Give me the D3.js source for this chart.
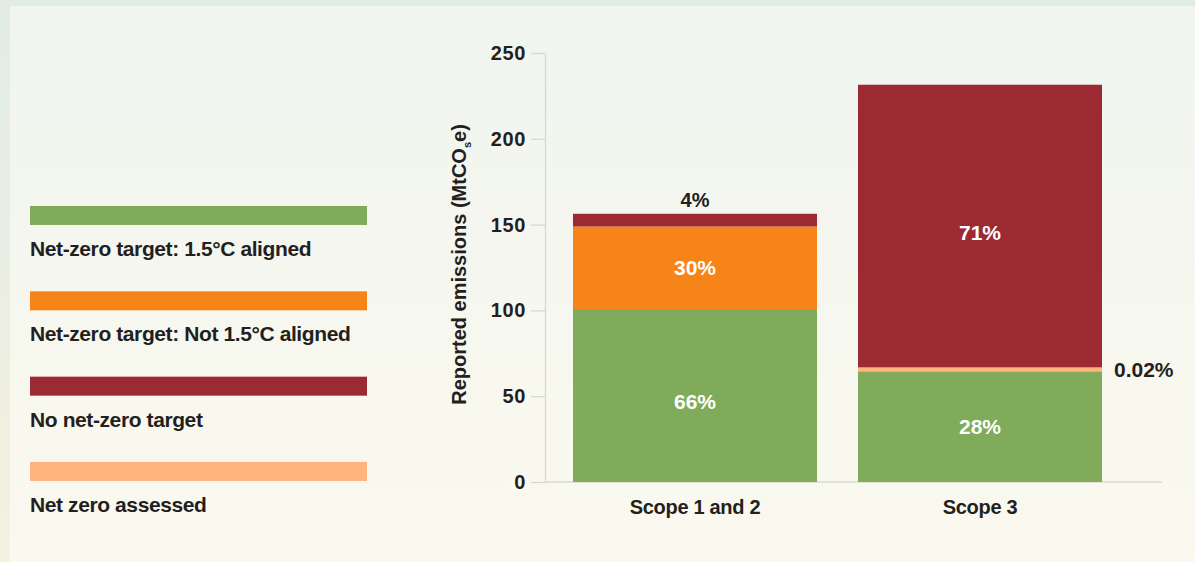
<!DOCTYPE html>
<html>
<head>
<meta charset="utf-8">
<script src="https://cdn.jsdelivr.net/npm/d3@7"></script>
<style>
  html, body { margin: 0; padding: 0; }
  body { width: 1195px; height: 562px; overflow: hidden; }
  svg { display: block; font-family: "Liberation Sans", Arial, sans-serif; }
</style>
</head>
<body>
<svg id="chart" width="1195" height="562"></svg>
<script>
// ---- data ----
const categories = ["Scope 1 and 2", "Scope 3"];
const seriesNames = ["Net-zero target: 1.5°C aligned", "Net-zero target: Not 1.5°C aligned", "No net-zero target", "Net zero assessed"];
const seriesColors = ["#80ab5b", "#f78419", "#9c2a33", "#ffb47c"];
// values per series, one per category (MtCO2e)
const aligned    = [100.8, 64.5];
const notAligned = [48.1, 0];
const noTarget   = [7.4, 164.7];
const assessed   = [0, 2.3];
const pctAligned    = ["66%", "28%"];
const pctNotAligned = ["30%", ""];
const pctNoTarget   = ["4%", "71%"];
const pctAssessed   = ["", "0.02%"];
const yTicks = [0, 50, 100, 150, 200, 250];

const svg = d3.select("#chart");
const W = 1195, H = 562;

// ---- background ----
const defs = svg.append("defs");
const g1 = defs.append("linearGradient").attr("id", "outerBg").attr("x1", 0).attr("y1", 0).attr("x2", 0).attr("y2", 1);
g1.append("stop").attr("offset", "0%").attr("stop-color", "#e1ece6");
g1.append("stop").attr("offset", "100%").attr("stop-color", "#f4f1df");
const g2 = defs.append("linearGradient").attr("id", "innerBg").attr("x1", 0).attr("y1", 0).attr("x2", 0).attr("y2", 1);
g2.append("stop").attr("offset", "0%").attr("stop-color", "#f0f5f0");
g2.append("stop").attr("offset", "100%").attr("stop-color", "#fbf9ee");
svg.append("rect").attr("width", W).attr("height", H).attr("fill", "url(#outerBg)");
svg.append("rect").attr("x", 10).attr("y", 6).attr("width", W - 10).attr("height", H - 6).attr("fill", "url(#innerBg)");

// ---- scales ----
const y = d3.scaleLinear().domain([0, 250]).range([482, 53]);
const x = d3.scaleBand().domain(categories).range([573, 1102]).paddingInner(0.1439).paddingOuter(0);

const textColor = "#231f20";

// ---- axis ----
const yAxis = d3.axisLeft(y).tickValues(yTicks).tickSize(14).tickPadding(5).tickSizeOuter(0);
const ga = svg.append("g").attr("transform", "translate(545,0)").call(yAxis);
ga.select(".domain").attr("stroke", "#d6d6d2").attr("stroke-width", 1.2);
ga.selectAll(".tick line").attr("stroke", "#d6d6d2").attr("stroke-width", 1.2);
ga.selectAll(".tick text").attr("fill", textColor).attr("font-size", 20).attr("font-weight", "bold")
  .attr("letter-spacing", "0.6px").attr("font-family", "Liberation Sans, Arial, sans-serif");

// baseline
svg.append("line").attr("x1", 545).attr("x2", 1162).attr("y1", y(0)).attr("y2", y(0))
  .attr("stroke", "#d8d8d2").attr("stroke-width", 1.6);

// axis title
const title = svg.append("text")
  .attr("transform", `translate(466,${(y(0) + y(250)) / 2 - 3}) rotate(-90)`)
  .attr("text-anchor", "middle")
  .attr("font-size", 20).attr("font-weight", "bold").attr("fill", textColor)
  .attr("letter-spacing", "0px");
title.append("tspan").text("Reported emissions (MtCO");
title.append("tspan").text("s").attr("font-size", 11).attr("dy", 5);
title.append("tspan").text("e)").attr("dy", -5);

// ---- stacked bars ----
const seriesVals = [aligned, notAligned, noTarget, assessed];
const drawOrder = [0, 3, 1, 2]; // stacking order bottom -> top
const rows = categories.map((c, i) => {
  const r = { cat: c };
  seriesNames.forEach((s, k) => r[s] = seriesVals[k][i]);
  return r;
});
const stack = d3.stack().keys(drawOrder.map(k => seriesNames[k]));
const stacked = stack(rows);

stacked.forEach((layer, li) => {
  const k = drawOrder[li];
  svg.append("g").selectAll("rect").data(layer).join("rect")
    .attr("x", d => x(d.data.cat))
    .attr("width", x.bandwidth())
    .attr("y", d => y(d[1]))
    .attr("height", d => Math.max(0, y(d[0]) - y(d[1])))
    .attr("fill", seriesColors[k]);
});

// ---- value labels ----
const pctArrays = [pctAligned, pctNotAligned, pctNoTarget, pctAssessed];
stacked.forEach((layer, li) => {
  const k = drawOrder[li];
  layer.forEach((d, i) => {
    const label = pctArrays[k][i];
    if (!label) return;
    const h = y(d[0]) - y(d[1]);
    const cx = x(d.data.cat) + x.bandwidth() / 2;
    if (h > 30) {
      const extra = h > 150 ? 6 : 0;
      svg.append("text").attr("x", cx).attr("y", (y(d[0]) + y(d[1])) / 2 + 7.5 + extra)
        .attr("text-anchor", "middle").attr("fill", "#ffffff")
        .attr("font-size", 21).attr("font-weight", "bold").text(label);
    } else if (k === 3) {
      svg.append("text").attr("x", x(d.data.cat) + x.bandwidth() + 12).attr("y", (y(d[0]) + y(d[1])) / 2 + 8)
        .attr("text-anchor", "start").attr("fill", textColor)
        .attr("font-size", 21).attr("font-weight", "bold").text(label);
    } else {
      svg.append("text").attr("x", cx).attr("y", y(d[1]) - 7)
        .attr("text-anchor", "middle").attr("fill", textColor)
        .attr("font-size", 20).attr("font-weight", "bold").text(label);
    }
  });
});

// ---- category labels ----
svg.append("g").selectAll("text").data(categories).join("text")
  .attr("x", d => x(d) + x.bandwidth() / 2)
  .attr("y", 514)
  .attr("text-anchor", "middle")
  .attr("fill", textColor).attr("font-size", 20).attr("font-weight", "bold")
  .attr("letter-spacing", "-0.3px")
  .text(d => d);

// ---- legend ----
const legendY = d3.scalePoint().domain(seriesNames).range([206, 462]);
const lg = svg.append("g").selectAll("g").data(seriesNames).join("g")
  .attr("transform", d => `translate(30,${legendY(d)})`);
lg.append("rect").attr("width", 337).attr("height", 19).attr("fill", (d, i) => seriesColors[i]);
lg.append("text").attr("y", 50).attr("fill", textColor)
  .attr("font-size", 21).attr("font-weight", "bold").attr("letter-spacing", "-0.4px")
  .text(d => d);
</script>
</body>
</html>
